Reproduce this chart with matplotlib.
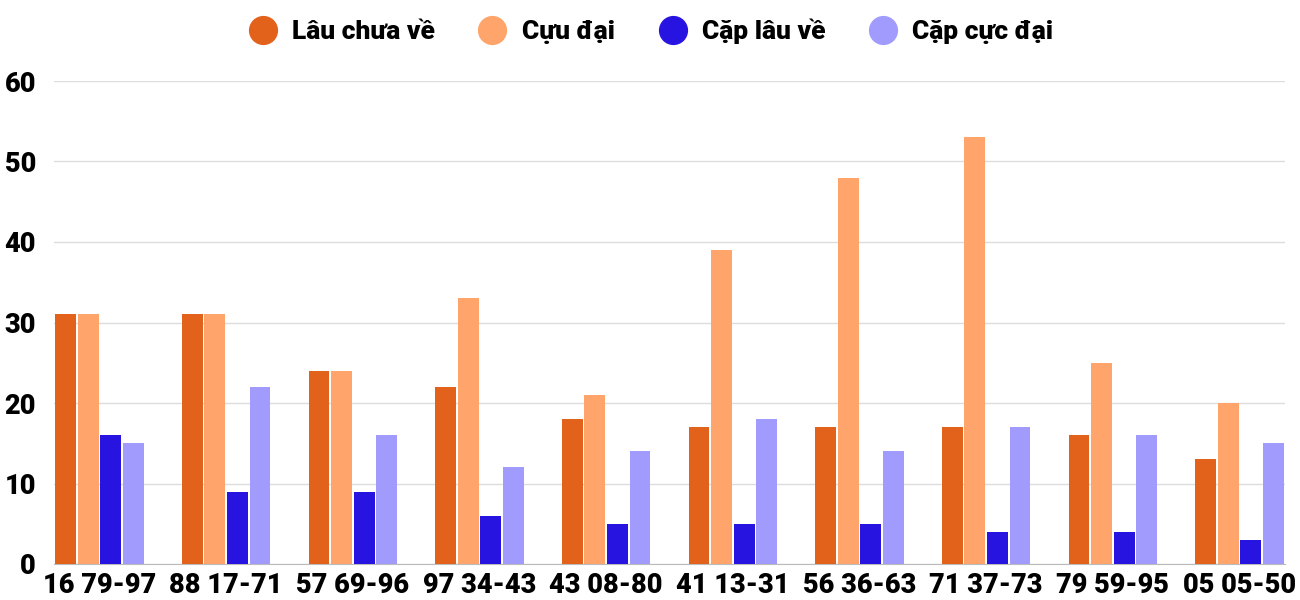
import numpy as np
import matplotlib.pyplot as plt
from matplotlib.lines import Line2D

plt.rcParams['font.family'] = ['Roboto', 'DejaVu Sans']

categories = ['16 79-97', '88 17-71', '57 69-96', '97 34-43', '43 08-80',
              '41 13-31', '56 36-63', '71 37-73', '79 59-95', '05 05-50']
lau_chua_ve = [31, 31, 24, 22, 18, 17, 17, 17, 16, 13]
cuc_dai = [31, 31, 24, 33, 21, 39, 48, 53, 25, 20]
cap_lau_ve = [16, 9, 9, 6, 5, 5, 5, 4, 4, 3]
cap_cuc_dai = [15, 22, 16, 12, 14, 18, 14, 17, 16, 15]

series = [
    ('Lâu chưa về', lau_chua_ve, '#E2621B'),
    ('Cựu đại', cuc_dai, '#FFA46A'),
    ('Cặp lâu về', cap_lau_ve, '#2814E0'),
    ('Cặp cực đại', cap_cuc_dai, '#A29BFE'),
]

fig = plt.figure(figsize=(13, 6), dpi=100)
ax = fig.add_axes([54 / 1300, 36 / 600, (1285 - 54) / 1300, (564 - 81) / 600])

x = np.arange(len(categories))
w = 0.165
step = 0.178
for i, (name, vals, col) in enumerate(series):
    ax.bar(x + (i - 1.5) * step, vals, width=w, color=col, zorder=3)

ax.set_ylim(0, 60)
ax.set_xlim(x[0] - 1.5 * step - w / 2 - 0.01, x[-1] + 1.5 * step + w / 2 + 0.01)
ax.set_yticks(range(0, 61, 10))
ax.grid(axis='y', color='#dddddd', linewidth=1, zorder=0)
ax.set_xticks(x)
ax.set_xticklabels(categories)
for s in ['top', 'right', 'left']:
    ax.spines[s].set_visible(False)
ax.spines['bottom'].set_color('#bbbbbb')
ax.tick_params(axis='both', length=0, labelsize=19.5)
ax.tick_params(axis='y', pad=13)
ax.tick_params(axis='x', pad=6)
for lbl in ax.get_xticklabels() + ax.get_yticklabels():
    lbl.set_fontweight('heavy')

handles = [Line2D([], [], marker='o', linestyle='', markersize=20,
                  markerfacecolor=c, markeredgecolor=c) for _, _, c in series]
fig.legend(handles, [s[0] for s in series], loc='center', bbox_to_anchor=(0.5, 1 - 31 / 600),
           ncol=4, frameon=False, prop={'weight': 'heavy', 'size': 19},
           handlelength=1.2, handletextpad=0.5, columnspacing=1.6)

fig.savefig('out.png', dpi=100)
